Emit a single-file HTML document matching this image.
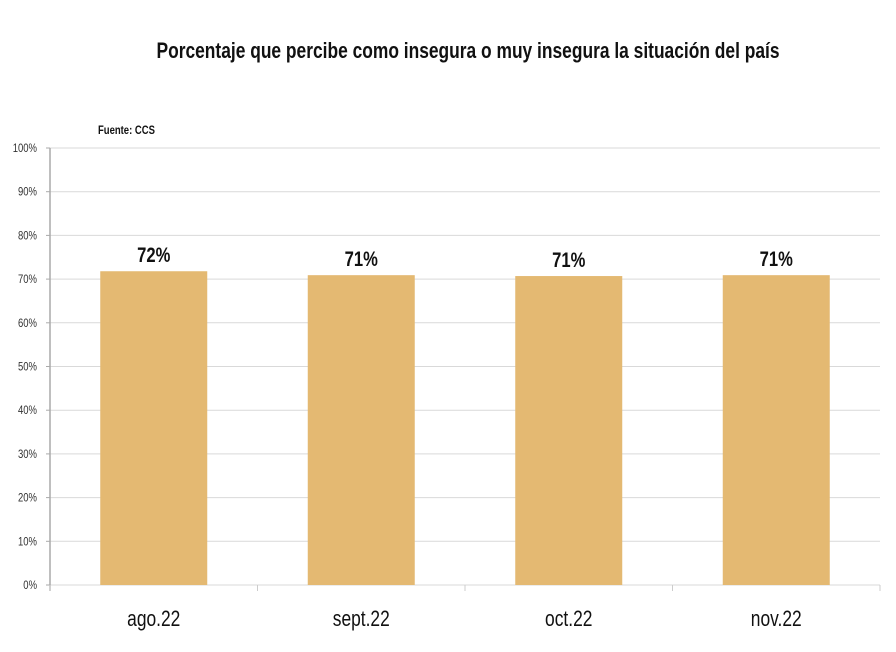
<!DOCTYPE html>
<html><head><meta charset="utf-8"><style>
body{margin:0;background:#fff;}
svg text{font-family:"Liberation Sans Narrow","Liberation Sans",sans-serif;}
</style></head><body>
<svg id="svg" width="896" height="647" xmlns="http://www.w3.org/2000/svg">
<text class="sq" x="468" y="58" text-anchor="middle" font-size="22" font-weight="bold" fill="#111">Porcentaje que percibe como insegura o muy insegura la situación del país</text>
<text class="sq" x="98" y="134" font-size="12" font-weight="bold" fill="#111">Fuente: CCS</text>
<g id="grid"></g><g id="bars"></g><g id="axes"></g>
</svg>
<script>
const categories=["ago.22","sept.22","oct.22","nov.22"];
const values=[71.8,70.9,70.7,70.9];
const valueLabels=["72%","71%","71%","71%"];
const yTicks=[0,10,20,30,40,50,60,70,80,90,100];
const NS="http://www.w3.org/2000/svg";
const x0=50,x1=880,y0=585,y1=148;
const bw=(x1-x0)/categories.length;
const ys=v=>y0-(v/100)*(y0-y1);
function mk(tag,attrs,parent,text){const e=document.createElementNS(NS,tag);for(const k in attrs)e.setAttribute(k,attrs[k]);if(text!==undefined)e.textContent=text;document.getElementById(parent).appendChild(e);return e;}
yTicks.forEach(t=>{
  const l=mk("line",{x1:x0,x2:x1,y1:ys(t),y2:ys(t),stroke:"#d9d9d9","stroke-width":1},"grid");
  
  
  const k=mk("line",{x1:x0-4,x2:x0,y1:ys(t),y2:ys(t),stroke:"#aaa"},"axes");
  
  
  const tx=mk("text",{x:37,y:ys(t)+4,"text-anchor":"end","font-size":12,fill:"#333","class":"sq"},"axes",t+"%");
  
  
});
const ya=mk("line",{x1:x0,x2:x0,y1:y1,y2:591,stroke:"#aaa","stroke-width":1.5},"axes");


for(let i=0;i<=categories.length;i++){
  const ct=mk("line",{x1:x0+i*bw,x2:x0+i*bw,y1:y0,y2:591,stroke:"#ccc"},"axes");
  
  
}
categories.forEach((c,i)=>{
  const cx=x0+bw*(i+0.5);
  const r=mk("rect",{x:cx-53.5,y:ys(values[i]),width:107,height:y0-ys(values[i]),fill:"#e4b972"},"bars");
  
  
  const vl=mk("text",{x:cx,y:ys(values[i])-9,"text-anchor":"middle","font-size":21,"font-weight":"bold",fill:"#111","class":"sq"},"bars",valueLabels[i]);
  
  
  const xl=mk("text",{x:cx,y:626,"text-anchor":"middle","font-size":22,fill:"#111","class":"sq"},"axes",c);
  
  
});
document.querySelectorAll("text.sq").forEach(t=>{
  const w=t.getComputedTextLength();
  t.setAttribute("textLength",(w*0.79).toFixed(1));
  t.setAttribute("lengthAdjust","spacingAndGlyphs");
});
</script>
</body></html>
